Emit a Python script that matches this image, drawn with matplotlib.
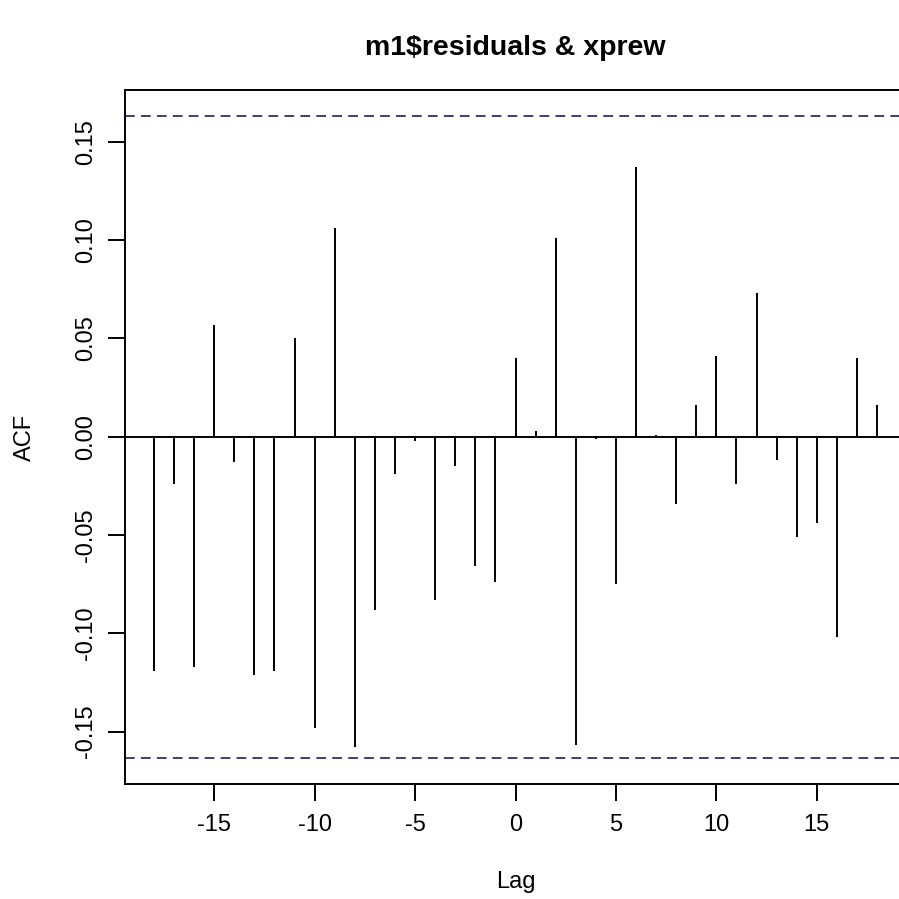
import matplotlib
matplotlib.use("Agg")
import matplotlib.pyplot as plt

plt.rcParams["font.family"] = ["Liberation Sans", "DejaVu Sans"]

# cross-correlation of m1$residuals and xprew, lags -18..18
lags = list(range(-18, 19))
acf = [
    -0.119, -0.024, -0.117, 0.057, -0.013, -0.121, -0.119, 0.050, -0.148,
    0.106, -0.158, -0.088, -0.019, -0.002, -0.083, -0.015, -0.066, -0.074,
    0.040,
    0.003, 0.101, -0.157, -0.001, -0.075, 0.137, 0.001, -0.034, 0.016,
    0.041, -0.024, 0.073, -0.012, -0.051, -0.044, -0.102, 0.040, 0.016,
]
ci = 0.1633  # 2/sqrt(n) confidence bound
xticks = [-15, -10, -5, 0, 5, 10, 15]
yticks = [-0.15, -0.10, -0.05, 0.00, 0.05, 0.10, 0.15]

W = H = 899
fig = plt.figure(figsize=(W / 100, H / 100), dpi=100, facecolor="white")
# plot region runs slightly past the right edge of the picture (cropped R output)
left, right, top, bottom = 125, 906, 90, 783.5
ax = fig.add_axes([left / W, 1 - bottom / H, (right - left) / W, (bottom - top) / H])

ax.vlines(lags, 0, acf, color="black", linewidth=1.4)
ax.axhline(0, color="black", linewidth=1.4)
for y in (ci, -ci):
    ax.axhline(y, color="#3b3f78", linewidth=1.4, linestyle=(0, (5, 3.2)))

ax.set_xlim(-19.44, 19.44)
ax.set_ylim(-0.1764, 0.1764)
ax.set_xticks(xticks)
ax.set_xticklabels([str(t) for t in xticks])
ax.set_yticks(yticks)
ax.set_yticklabels([f"{t:.2f}" for t in yticks], rotation=90, va="center")

for s in ax.spines.values():
    s.set_linewidth(1.4)
ax.tick_params(axis="both", length=12, width=1.4, labelsize=17, color="black")
ax.tick_params(axis="x", pad=10)
ax.tick_params(axis="y", pad=8)

cx = (left + right) / 2 / W
fig.text(cx, 1 - 48 / H, "m1$residuals & xprew", ha="center", va="center",
         fontsize=20.5, fontweight="bold")
fig.text(cx, 1 - 882 / H, "Lag", ha="center", va="center", fontsize=17)
fig.text(25 / W, 1 - 437 / H, "ACF", ha="center", va="center", fontsize=17,
         rotation=90)

fig.savefig("out.png", dpi=100)
